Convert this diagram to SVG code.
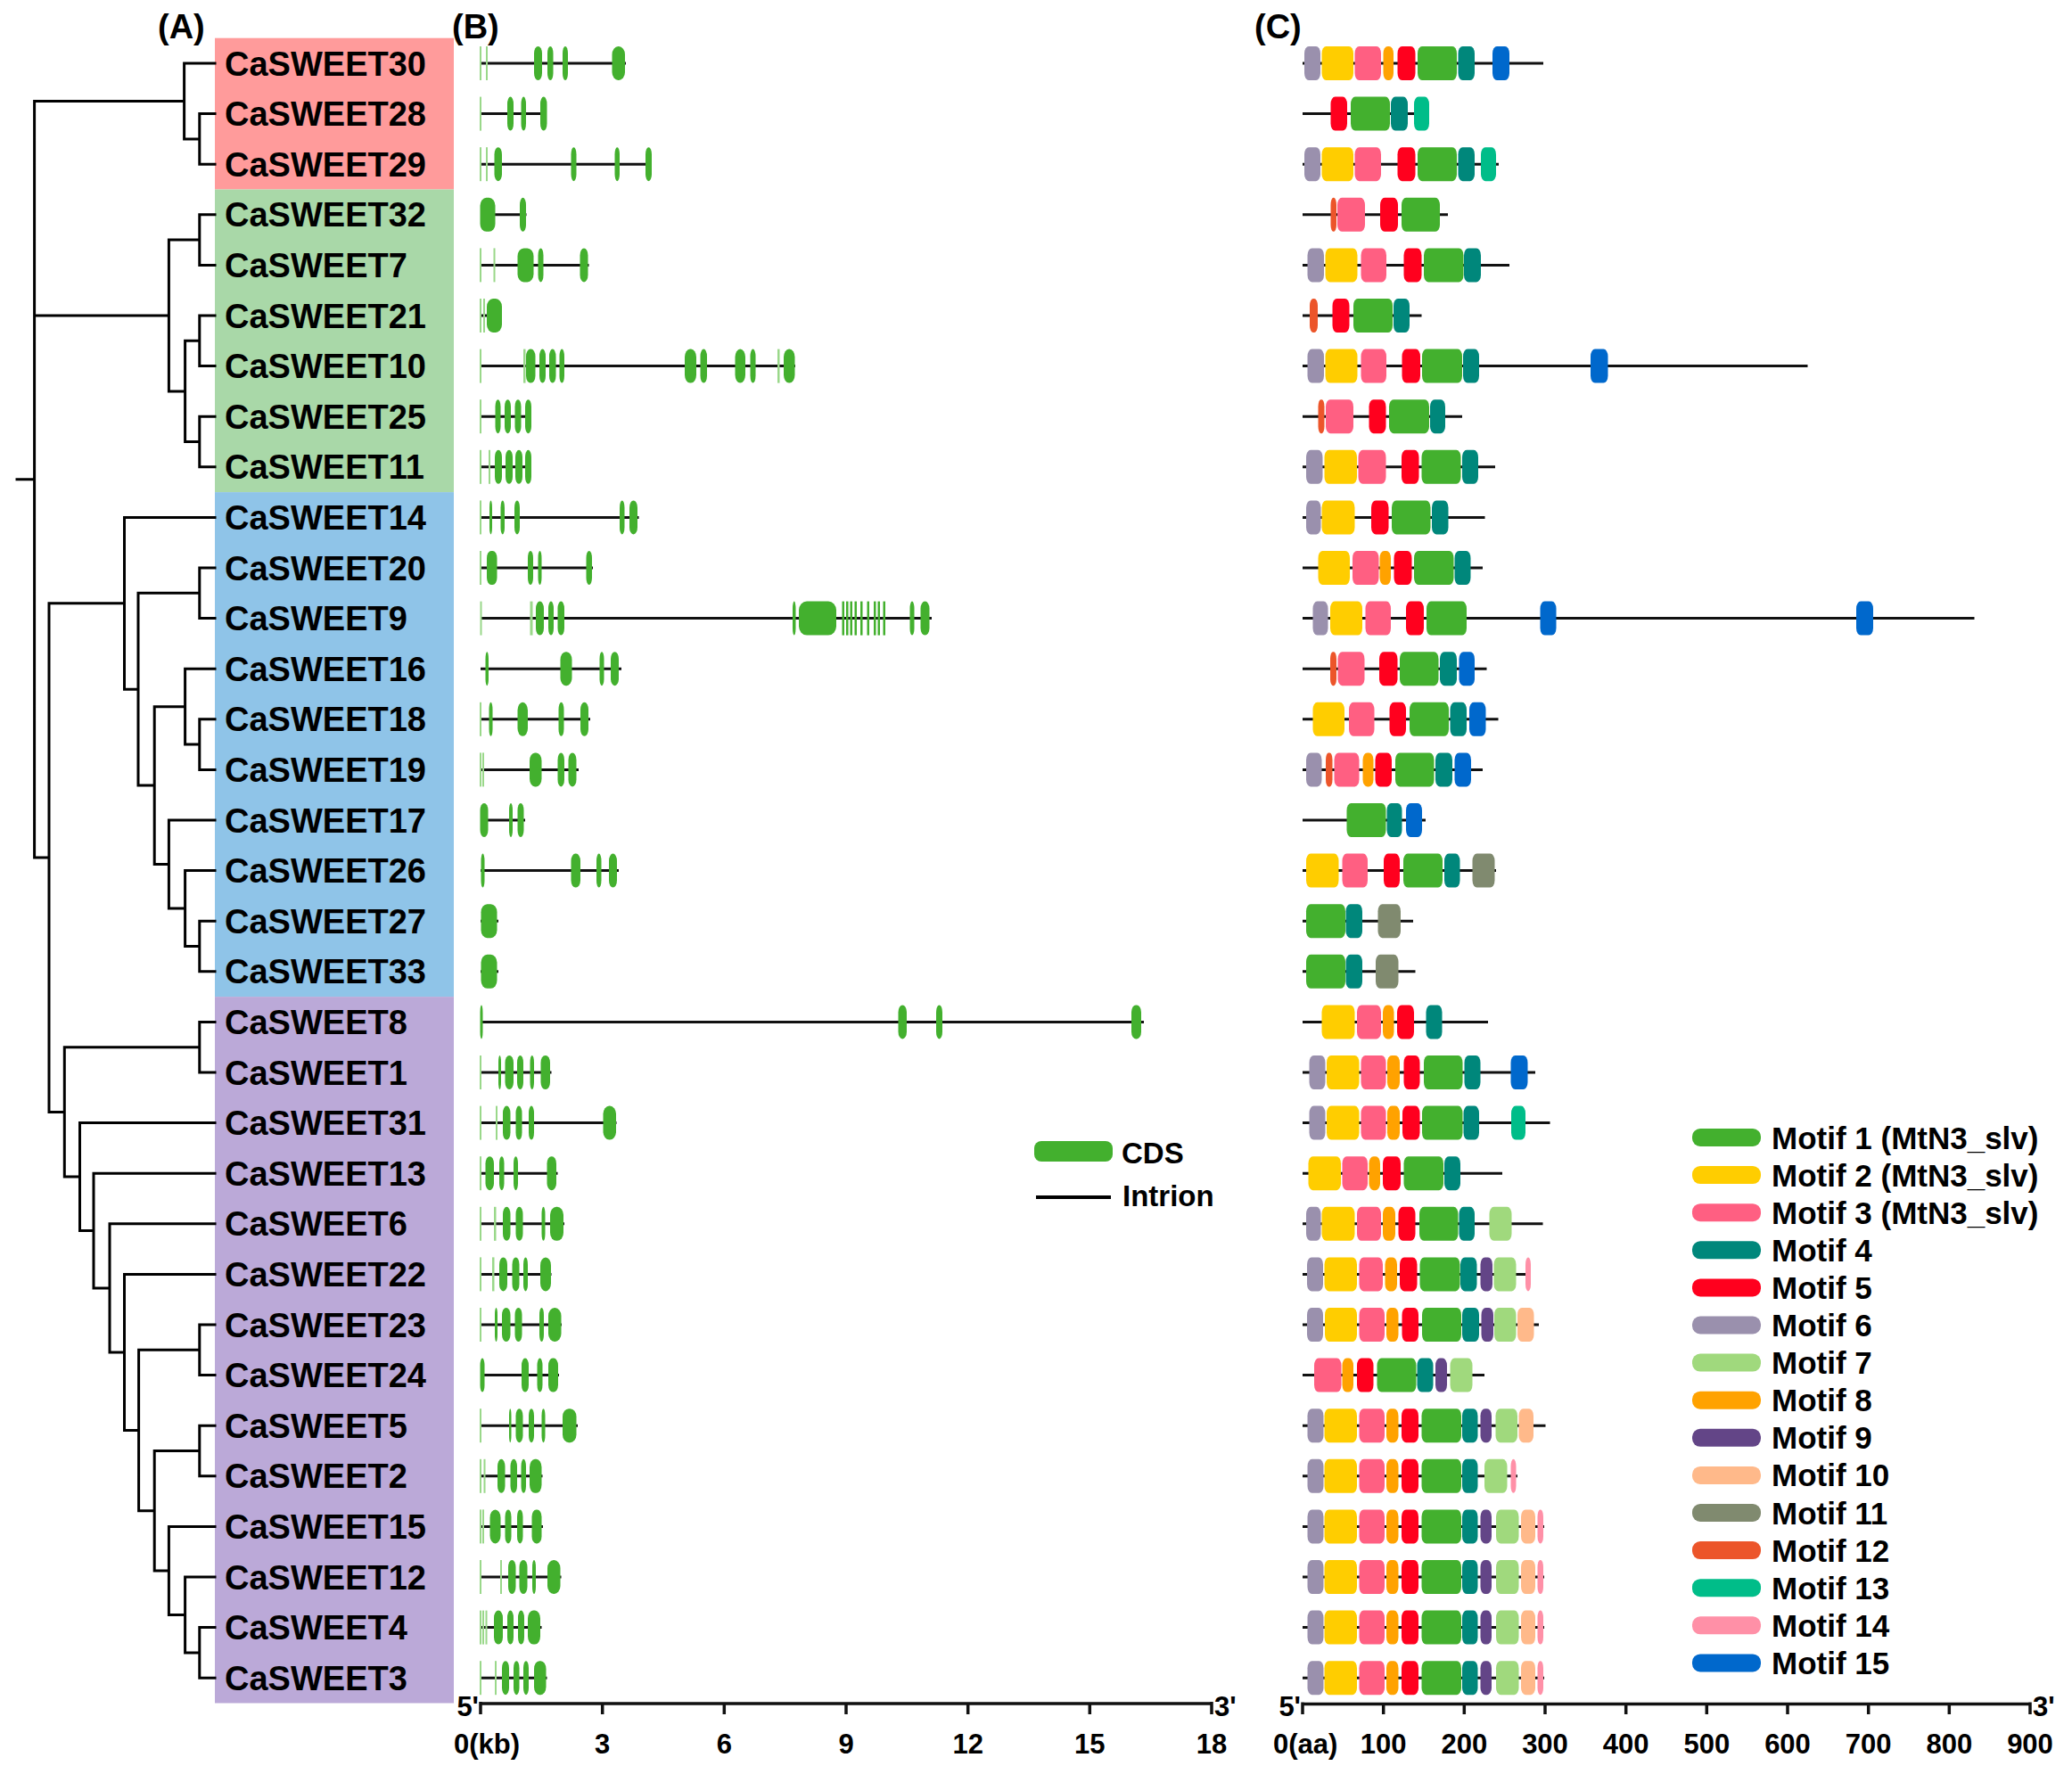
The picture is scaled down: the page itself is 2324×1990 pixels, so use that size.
<svg xmlns="http://www.w3.org/2000/svg" xmlns:xlink="http://www.w3.org/1999/xlink" width="2324" height="1990" viewBox="0 0 2324 1990">
<style>
text{font-family:'Liberation Sans',Arial,sans-serif;font-weight:bold;fill:#000}
.lb{font-size:38px}
.pl{font-size:38px}
.ax{font-size:31px}
.lg{font-size:35px}
.lgb{font-size:33px}
.ln{stroke:#111;stroke-width:3}
.ex rect{fill:#43b02e}
.ex rect.tx{fill:#9ad88a}
.tree{fill:none;stroke:#000;stroke-width:3;stroke-linecap:square}
.axis{fill:none;stroke:#111;stroke-width:3.5}
.m1{fill:#43b02e}.m2{fill:#ffcd00}.m3{fill:#ff5f82}.m4{fill:#00877b}.m5{fill:#ff001e}
.m6{fill:#9a90ad}.m7{fill:#a0d97d}.m8{fill:#ffa200}.m9{fill:#634587}.m10{fill:#ffb98a}
.m11{fill:#808a6f}.m12{fill:#ec552a}.m13{fill:#00bd89}.m14{fill:#ff90a7}.m15{fill:#0068cc}
</style>
<defs>
<g id="mc7">
<rect class="m6" x="1466.5" y="-19" width="18" height="38" rx="5" ry="8"/>
<rect class="m2" x="1485.5" y="-19" width="36.5" height="38" rx="5" ry="8"/>
<rect class="m3" x="1524.5" y="-19" width="28.5" height="38" rx="5" ry="8"/>
<rect class="m8" x="1555" y="-19" width="13.5" height="38" rx="5" ry="8"/>
<rect class="m5" x="1572" y="-19" width="19" height="38" rx="5" ry="8"/>
<rect class="m1" x="1594.5" y="-19" width="44.5" height="38" rx="5" ry="8"/>
<rect class="m4" x="1640" y="-19" width="17.5" height="38" rx="5" ry="8"/>
</g>
<g id="mfull">
<line class="ln" x1="1461" y1="0" x2="1732" y2="0"/>
<use xlink:href="#mc7"/>
<rect class="m9" x="1660.5" y="-19" width="12.5" height="38" rx="5" ry="8"/>
<rect class="m7" x="1678" y="-19" width="25.5" height="38" rx="5" ry="8"/>
<rect class="m10" x="1706" y="-19" width="16" height="38" rx="5" ry="8"/>
<rect class="m14" x="1724.5" y="-19" width="6.5" height="38" rx="3" ry="8"/>
</g>
</defs>

<rect width="2324" height="1990" fill="#fff"/>

<g id="clades">
<rect x="241" y="42.7" width="268" height="169.8" fill="#ff9b9b"/>
<rect x="241" y="212.5" width="268" height="339.6" fill="#a9d8a8"/>
<rect x="241" y="552.1" width="268" height="566" fill="#8fc4e8"/>
<rect x="241" y="1118.1" width="268" height="792.4" fill="#bba9d8"/>
</g>

<g id="panel-labels">
<text class="pl" x="177" y="43">(A)</text>
<text class="pl" x="507" y="43">(B)</text>
<text class="pl" x="1407" y="43">(C)</text>
</g>

<g id="connectors">
<path class="tree" d="M19,537.8 H38.6 M38.6,113.5 V962.1
M38.6,113.5 H206.6 M206.6,71 V155.9 M206.6,71 H241 M206.6,155.9 H223.8 M223.8,127.6 V184.2 M223.8,127.6 H241 M223.8,184.2 H241
M38.6,354 H189.4 M189.4,269.1 V438.9 M189.4,269.1 H223.8 M223.8,240.8 V297.4 M223.8,240.8 H241 M223.8,297.4 H241
M189.4,438.9 H207.6 M207.6,382.3 V495.5 M207.6,382.3 H223.8 M223.8,354 V410.6 M223.8,354 H241 M223.8,410.6 H241
M207.6,495.5 H223.8 M223.8,467.2 V523.8 M223.8,467.2 H241 M223.8,523.8 H241
M38.6,962.1 H55 M55,676.8 V1247.4
M55,676.8 H139.5 M139.5,580.4 V773.2 M139.5,580.4 H241
M139.5,773.2 H155 M155,665.3 V881.1
M155,665.3 H223.8 M223.8,637 V693.6 M223.8,637 H241 M223.8,693.6 H241
M155,881.1 H173.2 M173.2,792.65 V969.5
M173.2,792.65 H207.6 M207.6,750.2 V835.1 M207.6,750.2 H241 M207.6,835.1 H223.8 M223.8,806.8 V863.4 M223.8,806.8 H241 M223.8,863.4 H241
M173.2,969.5 H189.4 M189.4,920 V1019.05 M189.4,920 H241 M189.4,1019.05 H207.6 M207.6,976.6 V1061.5 M207.6,976.6 H241 M207.6,1061.5 H223.8 M223.8,1033.2 V1089.8 M223.8,1033.2 H241 M223.8,1089.8 H241
M55,1247.4 H72.3 M72.3,1174.7 V1320.1
M72.3,1174.7 H223.8 M223.8,1146.4 V1203 M223.8,1146.4 H241 M223.8,1203 H241
M72.3,1320.1 H89.5 M89.5,1259.6 V1380.55 M89.5,1259.6 H241
M89.5,1380.55 H105 M105,1316.2 V1444.9 M105,1316.2 H241
M105,1444.9 H123 M123,1372.8 V1517 M123,1372.8 H241
M123,1517 H139.5 M139.5,1429.4 V1604.5 M139.5,1429.4 H241
M139.5,1604.5 H155.6 M155.6,1514.3 V1694.7
M155.6,1514.3 H223.8 M223.8,1486 V1542.6 M223.8,1486 H241 M223.8,1542.6 H241
M155.6,1694.7 H173.2 M173.2,1627.5 V1761.9
M173.2,1627.5 H223.8 M223.8,1599.2 V1655.8 M223.8,1599.2 H241 M223.8,1655.8 H241
M173.2,1761.9 H189.4 M189.4,1712.4 V1811.45 M189.4,1712.4 H241
M189.4,1811.45 H207.6 M207.6,1769 V1853.9 M207.6,1769 H241
M207.6,1853.9 H223.8 M223.8,1825.6 V1882.2 M223.8,1825.6 H241 M223.8,1882.2 H241"/>
</g>

<g id="CaSWEET30" transform="translate(0,71)">
<text class="lb" x="252" y="13.6">CaSWEET30</text>
<line class="ln" x1="539" y1="0" x2="702" y2="0"/>
<g class="ex"><rect class="tx" x="538" y="-19" width="2" height="38"/><rect class="tx" x="545" y="-19" width="2" height="38"/>
<rect x="599" y="-19" width="9" height="38" rx="5" ry="8"/><rect x="614" y="-19" width="6.5" height="38" rx="5" ry="8"/><rect x="631" y="-19" width="6" height="38" rx="5" ry="8"/><rect x="686.5" y="-19" width="14.5" height="38" rx="7" ry="9"/></g>
<line class="ln" x1="1461" y1="0" x2="1731" y2="0"/>
<rect class="m6" x="1463" y="-19" width="18" height="38" rx="5" ry="8"/><rect class="m2" x="1482.5" y="-19" width="35.5" height="38" rx="5" ry="8"/><rect class="m3" x="1519.5" y="-19" width="29.5" height="38" rx="5" ry="8"/><rect class="m8" x="1551.5" y="-19" width="11.5" height="38" rx="5" ry="8"/><rect class="m5" x="1567.5" y="-19" width="20" height="38" rx="5" ry="8"/><rect class="m1" x="1590" y="-19" width="44" height="38" rx="5" ry="8"/><rect class="m4" x="1635.5" y="-19" width="18.5" height="38" rx="5" ry="8"/><rect class="m15" x="1674" y="-19" width="19" height="38" rx="5" ry="8"/>
</g>

<g id="CaSWEET28" transform="translate(0,127.6)">
<text class="lb" x="252" y="13.6">CaSWEET28</text>
<line class="ln" x1="539" y1="0" x2="613" y2="0"/>
<g class="ex"><rect class="tx" x="538" y="-19" width="2" height="38"/>
<rect x="569" y="-19" width="7" height="38" rx="5" ry="8"/><rect x="584.5" y="-19" width="5.5" height="38" rx="5" ry="8"/><rect x="606" y="-19" width="7.5" height="38" rx="5" ry="8"/></g>
<line class="ln" x1="1461" y1="0" x2="1602" y2="0"/>
<rect class="m5" x="1492.5" y="-19" width="18.5" height="38" rx="5" ry="8"/><rect class="m1" x="1515" y="-19" width="44" height="38" rx="5" ry="8"/><rect class="m4" x="1560" y="-19" width="19" height="38" rx="5" ry="8"/><rect class="m13" x="1586" y="-19" width="17" height="38" rx="5" ry="8"/>
</g>

<g id="CaSWEET29" transform="translate(0,184.2)">
<text class="lb" x="252" y="13.6">CaSWEET29</text>
<line class="ln" x1="539" y1="0" x2="731" y2="0"/>
<g class="ex"><rect class="tx" x="538" y="-19" width="2" height="38"/><rect class="tx" x="545" y="-19" width="2" height="38"/>
<rect x="554.5" y="-19" width="8.5" height="38" rx="5" ry="8"/><rect x="640.5" y="-19" width="6" height="38" rx="5" ry="8"/><rect x="689.5" y="-19" width="5.5" height="38" rx="5" ry="8"/><rect x="724" y="-19" width="7" height="38" rx="5" ry="8"/></g>
<line class="ln" x1="1461" y1="0" x2="1681" y2="0"/>
<rect class="m6" x="1463" y="-19" width="18" height="38" rx="5" ry="8"/><rect class="m2" x="1482.5" y="-19" width="35.5" height="38" rx="5" ry="8"/><rect class="m3" x="1519.5" y="-19" width="29.5" height="38" rx="5" ry="8"/><rect class="m5" x="1567.5" y="-19" width="20" height="38" rx="5" ry="8"/><rect class="m1" x="1590" y="-19" width="44" height="38" rx="5" ry="8"/><rect class="m4" x="1635.5" y="-19" width="18.5" height="38" rx="5" ry="8"/><rect class="m13" x="1661" y="-19" width="17" height="38" rx="5" ry="8"/>
</g>

<g id="CaSWEET32" transform="translate(0,240.8)">
<text class="lb" x="252" y="13.6">CaSWEET32</text>
<line class="ln" x1="539" y1="0" x2="590.5" y2="0"/>
<g class="ex"><rect x="538.5" y="-19" width="17" height="38" rx="7" ry="9"/><rect x="583" y="-19" width="7" height="38" rx="5" ry="8"/></g>
<line class="ln" x1="1461" y1="0" x2="1624" y2="0"/>
<rect class="m12" x="1492.5" y="-19" width="6.5" height="38" rx="3" ry="8"/><rect class="m3" x="1500" y="-19" width="31" height="38" rx="5" ry="8"/><rect class="m5" x="1548" y="-19" width="20" height="38" rx="5" ry="8"/><rect class="m1" x="1572" y="-19" width="43" height="38" rx="5" ry="8"/>
</g>

<g id="CaSWEET7" transform="translate(0,297.4)">
<text class="lb" x="252" y="13.6">CaSWEET7</text>
<line class="ln" x1="539" y1="0" x2="660.5" y2="0"/>
<g class="ex"><rect class="tx" x="538" y="-19" width="2" height="38"/><rect class="tx" x="553.5" y="-19" width="2" height="38"/>
<rect x="580.5" y="-19" width="18" height="38" rx="7" ry="9"/><rect x="603.5" y="-19" width="6" height="38" rx="5" ry="8"/><rect x="650.5" y="-19" width="9" height="38" rx="5" ry="8"/></g>
<line class="ln" x1="1461" y1="0" x2="1693" y2="0"/>
<rect class="m6" x="1466.5" y="-19" width="18.5" height="38" rx="5" ry="8"/><rect class="m2" x="1486.5" y="-19" width="36" height="38" rx="5" ry="8"/><rect class="m3" x="1526.5" y="-19" width="28.5" height="38" rx="5" ry="8"/><rect class="m5" x="1574.5" y="-19" width="20" height="38" rx="5" ry="8"/><rect class="m1" x="1597" y="-19" width="44.5" height="38" rx="5" ry="8"/><rect class="m4" x="1642" y="-19" width="19" height="38" rx="5" ry="8"/>
</g>

<g id="CaSWEET21" transform="translate(0,354)">
<text class="lb" x="252" y="13.6">CaSWEET21</text>
<line class="ln" x1="539" y1="0" x2="563" y2="0"/>
<g class="ex"><rect class="tx" x="538" y="-19" width="2" height="38"/><rect class="tx" x="542" y="-19" width="2" height="38"/>
<rect x="546" y="-19" width="17" height="38" rx="7" ry="9"/></g>
<line class="ln" x1="1461" y1="0" x2="1594.5" y2="0"/>
<rect class="m12" x="1469" y="-19" width="9" height="38" rx="4" ry="8"/><rect class="m5" x="1494.5" y="-19" width="19" height="38" rx="5" ry="8"/><rect class="m1" x="1518" y="-19" width="44" height="38" rx="5" ry="8"/><rect class="m4" x="1563" y="-19" width="18" height="38" rx="5" ry="8"/>
</g>

<g id="CaSWEET10" transform="translate(0,410.6)">
<text class="lb" x="252" y="13.6">CaSWEET10</text>
<line class="ln" x1="539" y1="0" x2="892" y2="0"/>
<g class="ex"><rect class="tx" x="538" y="-19" width="2" height="38"/><rect class="tx" x="587" y="-19" width="2.5" height="38"/>
<rect x="590" y="-19" width="10.5" height="38" rx="5" ry="8"/><rect x="605" y="-19" width="7" height="38" rx="5" ry="8"/><rect x="616" y="-19" width="7.5" height="38" rx="5" ry="8"/><rect x="627.5" y="-19" width="5.5" height="38" rx="5" ry="8"/><rect x="768" y="-19" width="13" height="38" rx="6" ry="9"/><rect x="785.5" y="-19" width="7.5" height="38" rx="5" ry="8"/><rect x="824.5" y="-19" width="11.5" height="38" rx="6" ry="9"/><rect x="841.5" y="-19" width="6" height="38" rx="5" ry="8"/><rect class="tx" x="872" y="-19" width="2.5" height="38"/><rect x="879" y="-19" width="12.5" height="38" rx="6" ry="9"/></g>
<line class="ln" x1="1461" y1="0" x2="2027.5" y2="0"/>
<rect class="m6" x="1466.5" y="-19" width="18.5" height="38" rx="5" ry="8"/><rect class="m2" x="1486.5" y="-19" width="36" height="38" rx="5" ry="8"/><rect class="m3" x="1526.5" y="-19" width="28.5" height="38" rx="5" ry="8"/><rect class="m5" x="1572.5" y="-19" width="20.5" height="38" rx="5" ry="8"/><rect class="m1" x="1595" y="-19" width="45" height="38" rx="5" ry="8"/><rect class="m4" x="1641" y="-19" width="18" height="38" rx="5" ry="8"/><rect class="m15" x="1784" y="-19" width="19.5" height="38" rx="5" ry="8"/>
</g>

<g id="CaSWEET25" transform="translate(0,467.2)">
<text class="lb" x="252" y="13.6">CaSWEET25</text>
<line class="ln" x1="539" y1="0" x2="596" y2="0"/>
<g class="ex"><rect class="tx" x="538" y="-19" width="2" height="38"/>
<rect x="555.5" y="-19" width="6" height="38" rx="5" ry="8"/><rect x="566" y="-19" width="7" height="38" rx="5" ry="8"/><rect x="577.5" y="-19" width="7" height="38" rx="5" ry="8"/><rect x="589" y="-19" width="7" height="38" rx="5" ry="8"/></g>
<line class="ln" x1="1461" y1="0" x2="1640" y2="0"/>
<rect class="m12" x="1478.5" y="-19" width="7" height="38" rx="3" ry="8"/><rect class="m3" x="1487" y="-19" width="31" height="38" rx="5" ry="8"/><rect class="m5" x="1535.5" y="-19" width="19" height="38" rx="5" ry="8"/><rect class="m1" x="1558" y="-19" width="45" height="38" rx="5" ry="8"/><rect class="m4" x="1604" y="-19" width="17" height="38" rx="5" ry="8"/>
</g>

<g id="CaSWEET11" transform="translate(0,523.8)">
<text class="lb" x="252" y="13.6">CaSWEET11</text>
<line class="ln" x1="539" y1="0" x2="596" y2="0"/>
<g class="ex"><rect class="tx" x="538" y="-19" width="2" height="38"/><rect class="tx" x="548" y="-19" width="2" height="38"/>
<rect x="555" y="-19" width="8" height="38" rx="5" ry="8"/><rect x="567" y="-19" width="8" height="38" rx="5" ry="8"/><rect x="578" y="-19" width="8" height="38" rx="5" ry="8"/><rect x="589" y="-19" width="7" height="38" rx="5" ry="8"/></g>
<line class="ln" x1="1461" y1="0" x2="1677" y2="0"/>
<rect class="m6" x="1465" y="-19" width="18.5" height="38" rx="5" ry="8"/><rect class="m2" x="1485.5" y="-19" width="36.5" height="38" rx="5" ry="8"/><rect class="m3" x="1523.5" y="-19" width="31" height="38" rx="5" ry="8"/><rect class="m5" x="1572" y="-19" width="19.5" height="38" rx="5" ry="8"/><rect class="m1" x="1594.5" y="-19" width="44" height="38" rx="5" ry="8"/><rect class="m4" x="1640" y="-19" width="18" height="38" rx="5" ry="8"/>
</g>

<g id="CaSWEET14" transform="translate(0,580.4)">
<text class="lb" x="252" y="13.6">CaSWEET14</text>
<line class="ln" x1="539" y1="0" x2="716.5" y2="0"/>
<g class="ex"><rect class="tx" x="538" y="-19" width="2" height="38"/>
<rect x="549" y="-19" width="3" height="38" rx="5" ry="8"/><rect x="561.5" y="-19" width="4.5" height="38" rx="5" ry="8"/><rect x="577" y="-19" width="6" height="38" rx="5" ry="8"/><rect x="695" y="-19" width="5.5" height="38" rx="5" ry="8"/><rect x="706" y="-19" width="9" height="38" rx="5" ry="8"/></g>
<line class="ln" x1="1461" y1="0" x2="1665.5" y2="0"/>
<rect class="m6" x="1465" y="-19" width="16.5" height="38" rx="5" ry="8"/><rect class="m2" x="1482.5" y="-19" width="37" height="38" rx="5" ry="8"/><rect class="m5" x="1538" y="-19" width="19.5" height="38" rx="5" ry="8"/><rect class="m1" x="1561" y="-19" width="43.5" height="38" rx="5" ry="8"/><rect class="m4" x="1606" y="-19" width="18.5" height="38" rx="5" ry="8"/>
</g>

<g id="CaSWEET20" transform="translate(0,637)">
<text class="lb" x="252" y="13.6">CaSWEET20</text>
<line class="ln" x1="539" y1="0" x2="665" y2="0"/>
<g class="ex"><rect class="tx" x="538" y="-19" width="2" height="38"/>
<rect x="546" y="-19" width="11.5" height="38" rx="5" ry="8"/><rect x="592" y="-19" width="6" height="38" rx="5" ry="8"/><rect x="603.5" y="-19" width="4" height="38" rx="5" ry="8"/><rect x="657.5" y="-19" width="6.5" height="38" rx="5" ry="8"/></g>
<line class="ln" x1="1461" y1="0" x2="1663" y2="0"/>
<rect class="m2" x="1478.5" y="-19" width="35.5" height="38" rx="5" ry="8"/><rect class="m3" x="1517" y="-19" width="29.5" height="38" rx="5" ry="8"/><rect class="m8" x="1547.5" y="-19" width="12.5" height="38" rx="5" ry="8"/><rect class="m5" x="1563.5" y="-19" width="20" height="38" rx="5" ry="8"/><rect class="m1" x="1586" y="-19" width="44.5" height="38" rx="5" ry="8"/><rect class="m4" x="1631.5" y="-19" width="18" height="38" rx="5" ry="8"/>
</g>

<g id="CaSWEET9" transform="translate(0,693.6)">
<text class="lb" x="252" y="13.6">CaSWEET9</text>
<line class="ln" x1="539" y1="0" x2="1045" y2="0"/>
<g class="ex"><rect class="tx" x="538.5" y="-19" width="2" height="38"/><rect class="tx" x="594.5" y="-19" width="3" height="38"/>
<rect x="601" y="-19" width="9" height="38" rx="5" ry="8"/><rect x="615" y="-19" width="6" height="38" rx="5" ry="8"/><rect x="625.5" y="-19" width="7.5" height="38" rx="5" ry="8"/><rect x="889" y="-19" width="3.5" height="38" rx="5" ry="8"/><rect x="896" y="-19" width="42" height="38" rx="9" ry="10"/>
<rect x="944.5" y="-19" width="2.5" height="38"/><rect x="949" y="-19" width="2.5" height="38"/><rect x="953.5" y="-19" width="2.5" height="38"/><rect x="958.5" y="-19" width="2.5" height="38"/><rect x="965" y="-19" width="2.5" height="38"/><rect x="972.5" y="-19" width="2.5" height="38"/><rect x="980" y="-19" width="2.5" height="38"/><rect x="984.5" y="-19" width="2.5" height="38"/><rect x="990.5" y="-19" width="2.5" height="38"/>
<rect x="1020.5" y="-19" width="5" height="38" rx="5" ry="8"/><rect x="1032.5" y="-19" width="10" height="38" rx="5" ry="8"/></g>
<line class="ln" x1="1461" y1="0" x2="2214.5" y2="0"/>
<rect class="m6" x="1472.5" y="-19" width="17" height="38" rx="5" ry="8"/><rect class="m2" x="1492" y="-19" width="36" height="38" rx="5" ry="8"/><rect class="m3" x="1531.5" y="-19" width="28.5" height="38" rx="5" ry="8"/><rect class="m5" x="1577" y="-19" width="20" height="38" rx="5" ry="8"/><rect class="m1" x="1600" y="-19" width="45" height="38" rx="5" ry="8"/><rect class="m15" x="1727.5" y="-19" width="18" height="38" rx="5" ry="8"/><rect class="m15" x="2082" y="-19" width="19" height="38" rx="5" ry="8"/>
</g>

<g id="CaSWEET16" transform="translate(0,750.2)">
<text class="lb" x="252" y="13.6">CaSWEET16</text>
<line class="ln" x1="539" y1="0" x2="697" y2="0"/>
<g class="ex"><rect x="544.5" y="-19" width="3.5" height="38" rx="5" ry="8"/><rect x="628.5" y="-19" width="13" height="38" rx="6" ry="9"/><rect x="672.5" y="-19" width="5" height="38" rx="5" ry="8"/><rect x="685" y="-19" width="9" height="38" rx="5" ry="8"/></g>
<line class="ln" x1="1461" y1="0" x2="1667.5" y2="0"/>
<rect class="m12" x="1492" y="-19" width="7" height="38" rx="3" ry="8"/><rect class="m3" x="1500.5" y="-19" width="30" height="38" rx="5" ry="8"/><rect class="m5" x="1547" y="-19" width="20.5" height="38" rx="5" ry="8"/><rect class="m1" x="1570" y="-19" width="43.5" height="38" rx="5" ry="8"/><rect class="m4" x="1615" y="-19" width="19" height="38" rx="5" ry="8"/><rect class="m15" x="1636.5" y="-19" width="17.5" height="38" rx="5" ry="8"/>
</g>

<g id="CaSWEET18" transform="translate(0,806.8)">
<text class="lb" x="252" y="13.6">CaSWEET18</text>
<line class="ln" x1="539" y1="0" x2="662" y2="0"/>
<g class="ex"><rect class="tx" x="538" y="-19" width="2" height="38"/>
<rect x="548.5" y="-19" width="4" height="38" rx="5" ry="8"/><rect x="580.5" y="-19" width="11.5" height="38" rx="6" ry="9"/><rect x="626.5" y="-19" width="6" height="38" rx="5" ry="8"/><rect x="651" y="-19" width="9" height="38" rx="5" ry="8"/></g>
<line class="ln" x1="1461" y1="0" x2="1680.5" y2="0"/>
<rect class="m2" x="1472.5" y="-19" width="35.5" height="38" rx="5" ry="8"/><rect class="m3" x="1513" y="-19" width="28.5" height="38" rx="5" ry="8"/><rect class="m5" x="1558.5" y="-19" width="18.5" height="38" rx="5" ry="8"/><rect class="m1" x="1581" y="-19" width="44" height="38" rx="5" ry="8"/><rect class="m4" x="1626.5" y="-19" width="18.5" height="38" rx="5" ry="8"/><rect class="m15" x="1648" y="-19" width="18.5" height="38" rx="5" ry="8"/>
</g>

<g id="CaSWEET19" transform="translate(0,863.4)">
<text class="lb" x="252" y="13.6">CaSWEET19</text>
<line class="ln" x1="539" y1="0" x2="649" y2="0"/>
<g class="ex"><rect class="tx" x="538" y="-19" width="2" height="38"/><rect class="tx" x="541" y="-19" width="2" height="38"/>
<rect x="594" y="-19" width="13.5" height="38" rx="6" ry="9"/><rect x="625.5" y="-19" width="7.5" height="38" rx="5" ry="8"/><rect x="637.5" y="-19" width="9" height="38" rx="5" ry="8"/></g>
<line class="ln" x1="1461" y1="0" x2="1663" y2="0"/>
<rect class="m6" x="1465" y="-19" width="17.5" height="38" rx="5" ry="8"/><rect class="m12" x="1487" y="-19" width="7.5" height="38" rx="3" ry="8"/><rect class="m3" x="1496.5" y="-19" width="28" height="38" rx="5" ry="8"/><rect class="m8" x="1528.5" y="-19" width="12" height="38" rx="5" ry="8"/><rect class="m5" x="1542.5" y="-19" width="18.5" height="38" rx="5" ry="8"/><rect class="m1" x="1565" y="-19" width="43.5" height="38" rx="5" ry="8"/><rect class="m4" x="1610" y="-19" width="19" height="38" rx="5" ry="8"/><rect class="m15" x="1631.5" y="-19" width="18.5" height="38" rx="5" ry="8"/>
</g>

<g id="CaSWEET17" transform="translate(0,920)">
<text class="lb" x="252" y="13.6">CaSWEET17</text>
<line class="ln" x1="539" y1="0" x2="589" y2="0"/>
<g class="ex"><rect x="538.5" y="-19" width="9" height="38" rx="5" ry="8"/><rect x="571" y="-19" width="4" height="38" rx="5" ry="8"/><rect x="580.5" y="-19" width="7" height="38" rx="5" ry="8"/></g>
<line class="ln" x1="1461" y1="0" x2="1599" y2="0"/>
<rect class="m1" x="1510.5" y="-19" width="44" height="38" rx="5" ry="8"/><rect class="m4" x="1555.5" y="-19" width="17" height="38" rx="5" ry="8"/><rect class="m15" x="1577" y="-19" width="18" height="38" rx="5" ry="8"/>
</g>

<g id="CaSWEET26" transform="translate(0,976.6)">
<text class="lb" x="252" y="13.6">CaSWEET26</text>
<line class="ln" x1="539" y1="0" x2="694" y2="0"/>
<g class="ex"><rect x="539.5" y="-19" width="4" height="38" rx="5" ry="8"/><rect x="640.5" y="-19" width="10.5" height="38" rx="5" ry="8"/><rect x="669" y="-19" width="5.5" height="38" rx="5" ry="8"/><rect x="683" y="-19" width="9" height="38" rx="5" ry="8"/></g>
<line class="ln" x1="1461" y1="0" x2="1678" y2="0"/>
<rect class="m2" x="1465" y="-19" width="36.5" height="38" rx="5" ry="8"/><rect class="m3" x="1505.5" y="-19" width="28.5" height="38" rx="5" ry="8"/><rect class="m5" x="1552" y="-19" width="18" height="38" rx="5" ry="8"/><rect class="m1" x="1574" y="-19" width="44" height="38" rx="5" ry="8"/><rect class="m4" x="1620" y="-19" width="17.5" height="38" rx="5" ry="8"/><rect class="m11" x="1651.5" y="-19" width="25" height="38" rx="5" ry="8"/>
</g>

<g id="CaSWEET27" transform="translate(0,1033.2)">
<text class="lb" x="252" y="13.6">CaSWEET27</text>
<line class="ln" x1="539" y1="0" x2="559" y2="0"/>
<g class="ex"><rect x="539.5" y="-19" width="18" height="38" rx="7" ry="9"/></g>
<line class="ln" x1="1461" y1="0" x2="1585" y2="0"/>
<rect class="m1" x="1465" y="-19" width="44" height="38" rx="5" ry="8"/><rect class="m4" x="1509.5" y="-19" width="18.5" height="38" rx="5" ry="8"/><rect class="m11" x="1545.5" y="-19" width="25.5" height="38" rx="5" ry="8"/>
</g>

<g id="CaSWEET33" transform="translate(0,1089.8)">
<text class="lb" x="252" y="13.6">CaSWEET33</text>
<line class="ln" x1="539" y1="0" x2="559" y2="0"/>
<g class="ex"><rect x="539.5" y="-19" width="18" height="38" rx="7" ry="9"/></g>
<line class="ln" x1="1461" y1="0" x2="1587.5" y2="0"/>
<rect class="m1" x="1465" y="-19" width="44" height="38" rx="5" ry="8"/><rect class="m4" x="1509.5" y="-19" width="18.5" height="38" rx="5" ry="8"/><rect class="m11" x="1543" y="-19" width="25.5" height="38" rx="5" ry="8"/>
</g>

<g id="CaSWEET8" transform="translate(0,1146.4)">
<text class="lb" x="252" y="13.6">CaSWEET8</text>
<line class="ln" x1="539" y1="0" x2="1283" y2="0"/>
<g class="ex"><rect x="538.5" y="-19" width="3" height="38" rx="5" ry="8"/><rect x="1007.5" y="-19" width="9.5" height="38" rx="5" ry="8"/><rect x="1050" y="-19" width="7" height="38" rx="5" ry="8"/><rect x="1269" y="-19" width="11" height="38" rx="5" ry="8"/></g>
<line class="ln" x1="1461" y1="0" x2="1669" y2="0"/>
<rect class="m2" x="1482.5" y="-19" width="37" height="38" rx="5" ry="8"/><rect class="m3" x="1522" y="-19" width="27" height="38" rx="5" ry="8"/><rect class="m8" x="1551" y="-19" width="12.5" height="38" rx="5" ry="8"/><rect class="m5" x="1567" y="-19" width="19" height="38" rx="5" ry="8"/><rect class="m4" x="1599.5" y="-19" width="18" height="38" rx="5" ry="8"/>
</g>

<g id="CaSWEET1" transform="translate(0,1203)">
<text class="lb" x="252" y="13.6">CaSWEET1</text>
<line class="ln" x1="539" y1="0" x2="618.5" y2="0"/>
<g class="ex"><rect class="tx" x="538" y="-19" width="2" height="38"/>
<rect x="559" y="-19" width="3" height="38" rx="5" ry="8"/><rect x="566.5" y="-19" width="9.5" height="38" rx="5" ry="8"/><rect x="580" y="-19" width="7" height="38" rx="5" ry="8"/><rect x="594.5" y="-19" width="4.5" height="38" rx="5" ry="8"/><rect x="606.5" y="-19" width="10.5" height="38" rx="5" ry="8"/></g>
<line class="ln" x1="1461" y1="0" x2="1722" y2="0"/>
<rect class="m6" x="1468.5" y="-19" width="18" height="38" rx="5" ry="8"/><rect class="m2" x="1488" y="-19" width="36.5" height="38" rx="5" ry="8"/><rect class="m3" x="1526.5" y="-19" width="28" height="38" rx="5" ry="8"/><rect class="m8" x="1556" y="-19" width="14" height="38" rx="5" ry="8"/><rect class="m5" x="1574.5" y="-19" width="18" height="38" rx="5" ry="8"/><rect class="m1" x="1597" y="-19" width="43.5" height="38" rx="5" ry="8"/><rect class="m4" x="1642.5" y="-19" width="18" height="38" rx="5" ry="8"/><rect class="m15" x="1694.5" y="-19" width="19" height="38" rx="5" ry="8"/>
</g>

<g id="CaSWEET31" transform="translate(0,1259.6)">
<text class="lb" x="252" y="13.6">CaSWEET31</text>
<line class="ln" x1="539" y1="0" x2="691.5" y2="0"/>
<g class="ex"><rect class="tx" x="538" y="-19" width="2" height="38"/><rect class="tx" x="556" y="-19" width="2" height="38"/>
<rect x="564" y="-19" width="8.5" height="38" rx="5" ry="8"/><rect x="578.5" y="-19" width="7" height="38" rx="5" ry="8"/><rect x="593" y="-19" width="6" height="38" rx="5" ry="8"/><rect x="676.5" y="-19" width="14.5" height="38" rx="7" ry="9"/></g>
<line class="ln" x1="1461" y1="0" x2="1738.5" y2="0"/>
<rect class="m6" x="1468.5" y="-19" width="18" height="38" rx="5" ry="8"/><rect class="m2" x="1488" y="-19" width="36.5" height="38" rx="5" ry="8"/><rect class="m3" x="1526.5" y="-19" width="28" height="38" rx="5" ry="8"/><rect class="m8" x="1556" y="-19" width="14" height="38" rx="5" ry="8"/><rect class="m5" x="1573" y="-19" width="19.5" height="38" rx="5" ry="8"/><rect class="m1" x="1595" y="-19" width="45.5" height="38" rx="5" ry="8"/><rect class="m4" x="1641.5" y="-19" width="17.5" height="38" rx="5" ry="8"/><rect class="m13" x="1695" y="-19" width="16" height="38" rx="5" ry="8"/>
</g>

<g id="CaSWEET13" transform="translate(0,1316.2)">
<text class="lb" x="252" y="13.6">CaSWEET13</text>
<line class="ln" x1="539" y1="0" x2="625.5" y2="0"/>
<g class="ex"><rect class="tx" x="538" y="-19" width="2" height="38"/>
<rect x="544.5" y="-19" width="9.5" height="38" rx="5" ry="8"/><rect x="560" y="-19" width="5.5" height="38" rx="5" ry="8"/><rect x="576" y="-19" width="5" height="38" rx="5" ry="8"/><rect x="613.5" y="-19" width="10.5" height="38" rx="5" ry="8"/></g>
<line class="ln" x1="1461" y1="0" x2="1685" y2="0"/>
<rect class="m2" x="1467.5" y="-19" width="36.5" height="38" rx="5" ry="8"/><rect class="m3" x="1505.5" y="-19" width="28.5" height="38" rx="5" ry="8"/><rect class="m8" x="1535.5" y="-19" width="12.5" height="38" rx="5" ry="8"/><rect class="m5" x="1551" y="-19" width="20" height="38" rx="5" ry="8"/><rect class="m1" x="1574.5" y="-19" width="44.5" height="38" rx="5" ry="8"/><rect class="m4" x="1620" y="-19" width="18" height="38" rx="5" ry="8"/>
</g>

<g id="CaSWEET6" transform="translate(0,1372.8)">
<text class="lb" x="252" y="13.6">CaSWEET6</text>
<line class="ln" x1="539" y1="0" x2="633" y2="0"/>
<g class="ex"><rect class="tx" x="538" y="-19" width="2" height="38"/><rect class="tx" x="554" y="-19" width="2.5" height="38"/>
<rect x="564" y="-19" width="8.5" height="38" rx="5" ry="8"/><rect x="578.5" y="-19" width="8" height="38" rx="5" ry="8"/><rect x="607.5" y="-19" width="4" height="38" rx="5" ry="8"/><rect x="617" y="-19" width="15" height="38" rx="7" ry="9"/></g>
<line class="ln" x1="1461" y1="0" x2="1730.5" y2="0"/>
<rect class="m6" x="1465" y="-19" width="16.5" height="38" rx="5" ry="8"/><rect class="m2" x="1482.5" y="-19" width="37" height="38" rx="5" ry="8"/><rect class="m3" x="1522" y="-19" width="27" height="38" rx="5" ry="8"/><rect class="m8" x="1551" y="-19" width="14" height="38" rx="5" ry="8"/><rect class="m5" x="1568.5" y="-19" width="19" height="38" rx="5" ry="8"/><rect class="m1" x="1592" y="-19" width="43.5" height="38" rx="5" ry="8"/><rect class="m4" x="1636.5" y="-19" width="17.5" height="38" rx="5" ry="8"/><rect class="m7" x="1670.5" y="-19" width="25" height="38" rx="5" ry="8"/>
</g>

<g id="CaSWEET22" transform="translate(0,1429.4)">
<text class="lb" x="252" y="13.6">CaSWEET22</text>
<line class="ln" x1="539" y1="0" x2="618.5" y2="0"/>
<g class="ex"><rect class="tx" x="538" y="-19" width="2" height="38"/><rect class="tx" x="552" y="-19" width="2.5" height="38"/>
<rect x="560" y="-19" width="9" height="38" rx="5" ry="8"/><rect x="574.5" y="-19" width="8" height="38" rx="5" ry="8"/><rect x="587" y="-19" width="5" height="38" rx="5" ry="8"/><rect x="606" y="-19" width="12" height="38" rx="6" ry="9"/></g>
<line class="ln" x1="1461" y1="0" x2="1717" y2="0"/>
<rect class="m6" x="1466" y="-19" width="18" height="38" rx="5" ry="8"/><rect class="m2" x="1485.5" y="-19" width="36.5" height="38" rx="5" ry="8"/><rect class="m3" x="1524.5" y="-19" width="26.5" height="38" rx="5" ry="8"/><rect class="m8" x="1553.5" y="-19" width="13.5" height="38" rx="5" ry="8"/><rect class="m5" x="1570" y="-19" width="19.5" height="38" rx="5" ry="8"/><rect class="m1" x="1592.5" y="-19" width="45" height="38" rx="5" ry="8"/><rect class="m4" x="1638" y="-19" width="18.5" height="38" rx="5" ry="8"/><rect class="m9" x="1660.5" y="-19" width="13.5" height="38" rx="5" ry="8"/><rect class="m7" x="1675.5" y="-19" width="25" height="38" rx="5" ry="8"/><rect class="m14" x="1711" y="-19" width="6" height="38" rx="3" ry="8"/>
</g>

<g id="CaSWEET23" transform="translate(0,1486)">
<text class="lb" x="252" y="13.6">CaSWEET23</text>
<line class="ln" x1="539" y1="0" x2="630" y2="0"/>
<g class="ex"><rect class="tx" x="538" y="-19" width="2" height="38"/>
<rect x="555" y="-19" width="3" height="38" rx="5" ry="8"/><rect x="563" y="-19" width="9.5" height="38" rx="5" ry="8"/><rect x="577.5" y="-19" width="8" height="38" rx="5" ry="8"/><rect x="605" y="-19" width="5" height="38" rx="5" ry="8"/><rect x="615" y="-19" width="14.5" height="38" rx="7" ry="9"/></g>
<line class="ln" x1="1461" y1="0" x2="1726" y2="0"/>
<rect class="m6" x="1466" y="-19" width="18" height="38" rx="5" ry="8"/><rect class="m2" x="1486" y="-19" width="36" height="38" rx="5" ry="8"/><rect class="m3" x="1524.5" y="-19" width="28.5" height="38" rx="5" ry="8"/><rect class="m8" x="1555" y="-19" width="13.5" height="38" rx="5" ry="8"/><rect class="m5" x="1572.5" y="-19" width="18.5" height="38" rx="5" ry="8"/><rect class="m1" x="1595" y="-19" width="44" height="38" rx="5" ry="8"/><rect class="m4" x="1640" y="-19" width="19" height="38" rx="5" ry="8"/><rect class="m9" x="1661.5" y="-19" width="13.5" height="38" rx="5" ry="8"/><rect class="m7" x="1676" y="-19" width="24.5" height="38" rx="5" ry="8"/><rect class="m10" x="1702" y="-19" width="18.5" height="38" rx="5" ry="8"/>
</g>

<g id="CaSWEET24" transform="translate(0,1542.6)">
<text class="lb" x="252" y="13.6">CaSWEET24</text>
<line class="ln" x1="539" y1="0" x2="627" y2="0"/>
<g class="ex"><rect x="538.5" y="-19" width="5" height="38" rx="5" ry="8"/><rect x="585" y="-19" width="8" height="38" rx="5" ry="8"/><rect x="602.5" y="-19" width="6" height="38" rx="5" ry="8"/><rect x="615" y="-19" width="11" height="38" rx="5" ry="8"/></g>
<line class="ln" x1="1461" y1="0" x2="1665" y2="0"/>
<rect class="m3" x="1474" y="-19" width="30.5" height="38" rx="5" ry="8"/><rect class="m8" x="1505.5" y="-19" width="12.5" height="38" rx="5" ry="8"/><rect class="m5" x="1522" y="-19" width="18.5" height="38" rx="5" ry="8"/><rect class="m1" x="1544.5" y="-19" width="44" height="38" rx="5" ry="8"/><rect class="m4" x="1589.5" y="-19" width="18" height="38" rx="5" ry="8"/><rect class="m9" x="1610" y="-19" width="13" height="38" rx="5" ry="8"/><rect class="m7" x="1626.5" y="-19" width="25" height="38" rx="5" ry="8"/>
</g>

<g id="CaSWEET5" transform="translate(0,1599.2)">
<text class="lb" x="252" y="13.6">CaSWEET5</text>
<line class="ln" x1="539" y1="0" x2="648" y2="0"/>
<g class="ex"><rect class="tx" x="538" y="-19" width="2" height="38"/>
<rect x="571" y="-19" width="2.5" height="38" rx="5" ry="8"/><rect x="578.5" y="-19" width="8" height="38" rx="5" ry="8"/><rect x="593" y="-19" width="6" height="38" rx="5" ry="8"/><rect x="607.5" y="-19" width="4" height="38" rx="5" ry="8"/><rect x="631" y="-19" width="15.5" height="38" rx="7" ry="9"/></g>
<line class="ln" x1="1461" y1="0" x2="1733.5" y2="0"/>
<use xlink:href="#mc7"/>
<rect class="m9" x="1660.5" y="-19" width="12.5" height="38" rx="5" ry="8"/><rect class="m7" x="1677.5" y="-19" width="24.5" height="38" rx="5" ry="8"/><rect class="m10" x="1703.5" y="-19" width="16.5" height="38" rx="5" ry="8"/>
</g>

<g id="CaSWEET2" transform="translate(0,1655.8)">
<text class="lb" x="252" y="13.6">CaSWEET2</text>
<line class="ln" x1="539" y1="0" x2="608.5" y2="0"/>
<g class="ex"><rect class="tx" x="538" y="-19" width="2" height="38"/><rect class="tx" x="542.5" y="-19" width="2" height="38"/>
<rect x="558" y="-19" width="8.5" height="38" rx="5" ry="8"/><rect x="572.5" y="-19" width="7.5" height="38" rx="5" ry="8"/><rect x="584.5" y="-19" width="5.5" height="38" rx="5" ry="8"/><rect x="594" y="-19" width="13.5" height="38" rx="6" ry="9"/></g>
<line class="ln" x1="1461" y1="0" x2="1702" y2="0"/>
<use xlink:href="#mc7"/>
<rect class="m7" x="1665" y="-19" width="25.5" height="38" rx="5" ry="8"/><rect class="m14" x="1694.5" y="-19" width="6" height="38" rx="3" ry="8"/>
</g>

<g id="CaSWEET15" transform="translate(0,1712.4)">
<text class="lb" x="252" y="13.6">CaSWEET15</text>
<line class="ln" x1="539" y1="0" x2="609" y2="0"/>
<g class="ex"><rect class="tx" x="538" y="-19" width="2" height="38"/><rect class="tx" x="541" y="-19" width="2" height="38"/>
<rect x="549.5" y="-19" width="12" height="38" rx="6" ry="9"/><rect x="566.5" y="-19" width="7" height="38" rx="5" ry="8"/><rect x="580" y="-19" width="6.5" height="38" rx="5" ry="8"/><rect x="596.5" y="-19" width="11" height="38" rx="5" ry="8"/></g>
<use xlink:href="#mfull"/>
</g>

<g id="CaSWEET12" transform="translate(0,1769)">
<text class="lb" x="252" y="13.6">CaSWEET12</text>
<line class="ln" x1="539" y1="0" x2="629.5" y2="0"/>
<g class="ex"><rect class="tx" x="538" y="-19" width="2" height="38"/><rect class="tx" x="561" y="-19" width="2" height="38"/>
<rect x="570" y="-19" width="8.5" height="38" rx="5" ry="8"/><rect x="582.5" y="-19" width="9" height="38" rx="5" ry="8"/><rect x="597" y="-19" width="4" height="38" rx="5" ry="8"/><rect x="614" y="-19" width="14.5" height="38" rx="7" ry="9"/></g>
<use xlink:href="#mfull"/>
</g>

<g id="CaSWEET4" transform="translate(0,1825.6)">
<text class="lb" x="252" y="13.6">CaSWEET4</text>
<line class="ln" x1="539" y1="0" x2="607.5" y2="0"/>
<g class="ex"><rect class="tx" x="538" y="-19" width="2" height="38"/><rect class="tx" x="541" y="-19" width="2" height="38"/><rect class="tx" x="544.5" y="-19" width="2" height="38"/>
<rect x="554" y="-19" width="10" height="38" rx="5" ry="8"/><rect x="569" y="-19" width="7" height="38" rx="5" ry="8"/><rect x="581" y="-19" width="7" height="38" rx="5" ry="8"/><rect x="592" y="-19" width="14" height="38" rx="6" ry="9"/></g>
<use xlink:href="#mfull"/>
</g>

<g id="CaSWEET3" transform="translate(0,1882.2)">
<text class="lb" x="252" y="13.6">CaSWEET3</text>
<line class="ln" x1="539" y1="0" x2="613.5" y2="0"/>
<g class="ex"><rect class="tx" x="538" y="-19" width="2" height="38"/><rect class="tx" x="555" y="-19" width="2" height="38"/>
<rect x="563" y="-19" width="8" height="38" rx="5" ry="8"/><rect x="576" y="-19" width="6.5" height="38" rx="5" ry="8"/><rect x="587" y="-19" width="6" height="38" rx="5" ry="8"/><rect x="599" y="-19" width="13.5" height="38" rx="6" ry="9"/></g>
<use xlink:href="#mfull"/>
</g>

<g id="axis-kb">
<path class="axis" d="M539,1911 H1359 M539,1909 V1923 M675.7,1911 V1923 M812.3,1911 V1923 M949,1911 V1923 M1085.7,1911 V1923 M1222.3,1911 V1923 M1359,1909 V1923"/>
<text class="ax" x="537" y="1925" text-anchor="end">5'</text>
<text class="ax" x="1362" y="1925">3'</text>
<text class="ax" x="509" y="1967">0(kb)</text>
<text class="ax" x="675.7" y="1967" text-anchor="middle">3</text>
<text class="ax" x="812.3" y="1967" text-anchor="middle">6</text>
<text class="ax" x="949" y="1967" text-anchor="middle">9</text>
<text class="ax" x="1085.7" y="1967" text-anchor="middle">12</text>
<text class="ax" x="1222.3" y="1967" text-anchor="middle">15</text>
<text class="ax" x="1359" y="1967" text-anchor="middle">18</text>
</g>

<g id="axis-aa">
<path class="axis" d="M1461,1911.5 H2277 M1461,1909.5 V1923 M1551.7,1911.5 V1923 M1642.3,1911.5 V1923 M1733,1911.5 V1923 M1823.7,1911.5 V1923 M1914.3,1911.5 V1923 M2005,1911.5 V1923 M2095.7,1911.5 V1923 M2186.3,1911.5 V1923 M2277,1909.5 V1923"/>
<text class="ax" x="1459" y="1925" text-anchor="end">5'</text>
<text class="ax" x="2280" y="1925">3'</text>
<text class="ax" x="1428" y="1967">0(aa)</text>
<text class="ax" x="1551.7" y="1967" text-anchor="middle">100</text>
<text class="ax" x="1642.3" y="1967" text-anchor="middle">200</text>
<text class="ax" x="1733" y="1967" text-anchor="middle">300</text>
<text class="ax" x="1823.7" y="1967" text-anchor="middle">400</text>
<text class="ax" x="1914.3" y="1967" text-anchor="middle">500</text>
<text class="ax" x="2005" y="1967" text-anchor="middle">600</text>
<text class="ax" x="2095.7" y="1967" text-anchor="middle">700</text>
<text class="ax" x="2186.3" y="1967" text-anchor="middle">800</text>
<text class="ax" x="2277" y="1967" text-anchor="middle">900</text>
</g>

<g id="legend-gene">
<rect x="1160" y="1280" width="88" height="23" rx="8" ry="8" fill="#43b02e"/>
<text class="lgb" x="1258" y="1305">CDS</text>
<line x1="1162" y1="1343" x2="1246" y2="1343" stroke="#000" stroke-width="4"/>
<text class="lgb" x="1259" y="1353">Intrion</text>
</g>

<g id="legend-motif">
<rect class="m1" x="1898" y="1266" width="77" height="20" rx="9"/><text class="lg" x="1987" y="1288.5">Motif 1 (MtN3_slv)</text>
<rect class="m2" x="1898" y="1308.1" width="77" height="20" rx="9"/><text class="lg" x="1987" y="1330.6">Motif 2 (MtN3_slv)</text>
<rect class="m3" x="1898" y="1350.2" width="77" height="20" rx="9"/><text class="lg" x="1987" y="1372.7">Motif 3 (MtN3_slv)</text>
<rect class="m4" x="1898" y="1392.3" width="77" height="20" rx="9"/><text class="lg" x="1987" y="1414.8">Motif 4</text>
<rect class="m5" x="1898" y="1434.4" width="77" height="20" rx="9"/><text class="lg" x="1987" y="1456.9">Motif 5</text>
<rect class="m6" x="1898" y="1476.5" width="77" height="20" rx="9"/><text class="lg" x="1987" y="1499">Motif 6</text>
<rect class="m7" x="1898" y="1518.6" width="77" height="20" rx="9"/><text class="lg" x="1987" y="1541.1">Motif 7</text>
<rect class="m8" x="1898" y="1560.7" width="77" height="20" rx="9"/><text class="lg" x="1987" y="1583.2">Motif 8</text>
<rect class="m9" x="1898" y="1602.8" width="77" height="20" rx="9"/><text class="lg" x="1987" y="1625.3">Motif 9</text>
<rect class="m10" x="1898" y="1644.9" width="77" height="20" rx="9"/><text class="lg" x="1987" y="1667.4">Motif 10</text>
<rect class="m11" x="1898" y="1687" width="77" height="20" rx="9"/><text class="lg" x="1987" y="1709.5">Motif 11</text>
<rect class="m12" x="1898" y="1729.1" width="77" height="20" rx="9"/><text class="lg" x="1987" y="1751.6">Motif 12</text>
<rect class="m13" x="1898" y="1771.2" width="77" height="20" rx="9"/><text class="lg" x="1987" y="1793.7">Motif 13</text>
<rect class="m14" x="1898" y="1813.3" width="77" height="20" rx="9"/><text class="lg" x="1987" y="1835.8">Motif 14</text>
<rect class="m15" x="1898" y="1855.4" width="77" height="20" rx="9"/><text class="lg" x="1987" y="1877.9">Motif 15</text>
</g>
</svg>
